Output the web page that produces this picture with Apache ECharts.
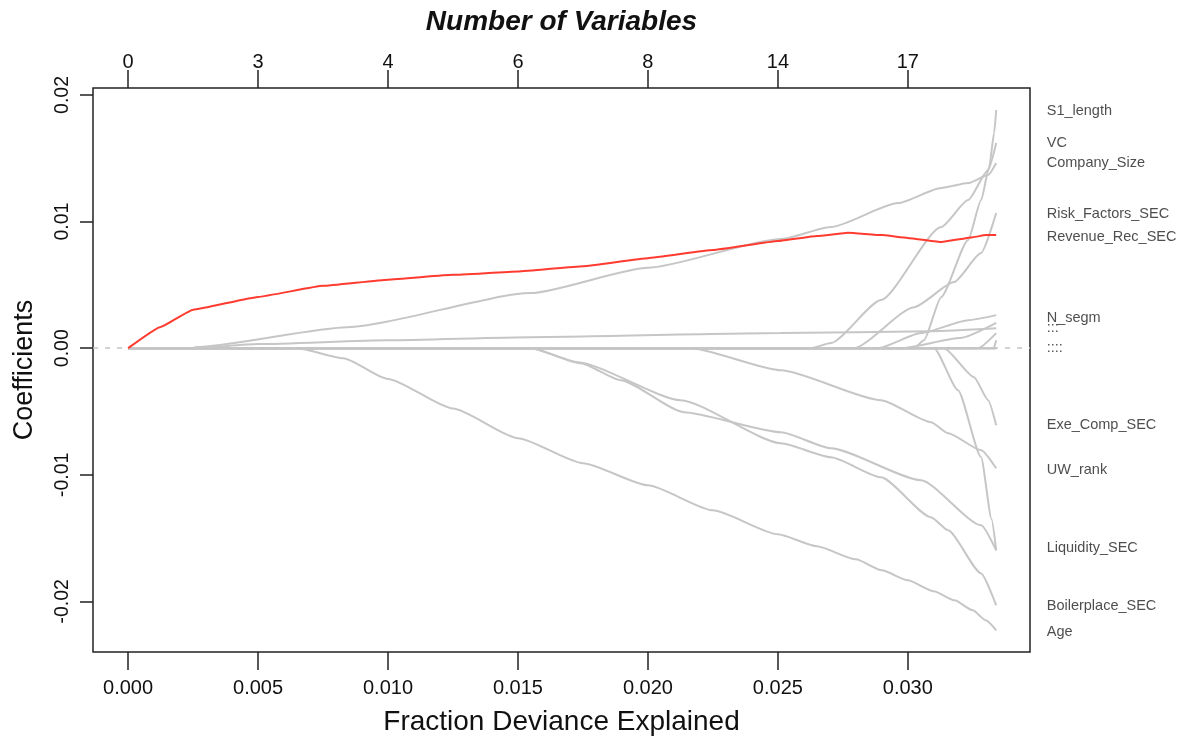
<!DOCTYPE html>
<html>
<head>
<meta charset="utf-8">
<title>Coefficient paths</title>
<script src="https://cdn.jsdelivr.net/npm/echarts@6/dist/echarts.min.js"></script>
<style>
  html, body { margin: 0; padding: 0; background: #fff; }
  #main { width: 1193px; height: 746px; }
</style>
</head>
<body>
<div id="main"></div>
<script>
// axis ticks
var devTicks = [0, 0.005, 0.010, 0.015, 0.020, 0.025, 0.030];
var nVarLabels = ['0', '3', '4', '6', '8', '14', '17'];
var coefTicks = [-0.02, -0.01, 0, 0.01, 0.02];
var coefTickLabels = ['-0.02', '-0.01', '0.00', '0.01', '0.02'];

// coefficient paths, [fraction deviance explained, coefficient]
var revenueRec = [[0, 0], [0.00123, 0.00166], [0.0025, 0.00304], [0.005, 0.00405], [0.0075, 0.00492],
  [0.01, 0.00541], [0.0125, 0.00579], [0.015, 0.00605], [0.0175, 0.00648], [0.02, 0.00711],
  [0.0225, 0.00775], [0.025, 0.00846], [0.0265, 0.00885], [0.0277, 0.00912], [0.029, 0.00893],
  [0.030, 0.0087], [0.0313, 0.00838], [0.0325, 0.00877], [0.033, 0.00893], [0.0334, 0.00893]];
var companySize = [[0, 0], [0.0025, 0], [0.00258, 0.00008], [0.00844, 0.00166], [0.01549, 0.00435],
  [0.02, 0.00635], [0.02512, 0.00862], [0.02704, 0.00957], [0.02962, 0.01146], [0.03128, 0.01265],
  [0.03232, 0.01304], [0.03309, 0.01368], [0.0334, 0.01462]];
var vc = [[0, 0], [0.02627, 0], [0.02704, 0.0004], [0.02897, 0.0038], [0.03128, 0.00957],
  [0.03232, 0.0117], [0.03309, 0.01407], [0.0334, 0.01621]];
var s1Length = [[0, 0], [0.03024, 0], [0.03062, 0.00063], [0.03128, 0.00403], [0.03232, 0.00854],
  [0.03282, 0.0117], [0.03313, 0.01431], [0.03332, 0.017], [0.0334, 0.01881]];
var riskFactors = [[0, 0], [0.02793, 0], [0.03024, 0.00324], [0.03178, 0.00522], [0.03282, 0.00751],
  [0.0334, 0.01067]];
var nSegm = [[0, 0], [0.02885, 0], [0.03051, 0.00119], [0.03232, 0.00221], [0.0334, 0.00261]];
var earlyFlat = [[0, 0], [0.0025, 0], [0.005, 0.00032], [0.01, 0.00063], [0.01549, 0.00087],
  [0.02512, 0.00119], [0.03089, 0.00134], [0.0334, 0.00158]];
var smallA = [[0, 0], [0.0298, 0], [0.032, 0.0008], [0.0334, 0.002]];
var smallB = [[0, 0], [0.0327, 0], [0.0334, 0.00119]];
var smallC = [[0, 0], [0.0333, 0], [0.0334, 0.00063]];
var age = [[0, 0], [0.0065, 0], [0.00828, -0.00079], [0.01, -0.00243], [0.0125, -0.00477],
  [0.015, -0.00711], [0.0175, -0.00909], [0.02, -0.01083], [0.0225, -0.01281], [0.025, -0.0147],
  [0.0265, -0.01565], [0.028, -0.01668], [0.029, -0.01755], [0.03, -0.01834], [0.031, -0.0192],
  [0.0318, -0.01992], [0.0325, -0.02071], [0.033, -0.0215], [0.0334, -0.02229]];
var boilerplace = [[0, 0], [0.01549, 0], [0.0173, -0.00111], [0.02126, -0.00411], [0.02512, -0.00751],
  [0.02704, -0.00862], [0.02897, -0.0102], [0.03089, -0.01336], [0.03155, -0.01439],
  [0.03282, -0.01779], [0.0334, -0.02032]];
var liquidity = [[0, 0], [0.01549, 0], [0.01741, -0.00119], [0.01895, -0.00253], [0.02138, -0.00506],
  [0.02512, -0.00664], [0.02704, -0.00791], [0.03051, -0.01043], [0.03282, -0.01399], [0.0334, -0.01597]];
var uwRank = [[0, 0], [0.02165, 0], [0.02512, -0.00174], [0.02897, -0.00411], [0.03089, -0.00585],
  [0.03155, -0.00672], [0.03282, -0.00806], [0.0334, -0.00949]];
var exeComp = [[0, 0], [0.03139, 0], [0.03255, -0.00229], [0.03309, -0.00411], [0.0334, -0.00609]];
var lateNeg = [[0, 0], [0.03101, 0], [0.03193, -0.00332], [0.03282, -0.00862], [0.03322, -0.01350],
  [0.0334, -0.01597]];
var zeroPath = [[0, 0], [0.0334, 0]];

// right-hand variable labels
var endNames = ['S1_length', 'VC', 'Company_Size', 'Risk_Factors_SEC', 'Revenue_Rec_SEC', 'N_segm',
  ':::', '::::', 'Exe_Comp_SEC', 'UW_rank', 'Liquidity_SEC', 'Boilerplace_SEC', 'Age'];
var endCoefs = [0.01874, 0.0162, 0.01462, 0.01059, 0.00877, 0.00237, 0.00158, 0, -0.00609, -0.00964,
  -0.01581, -0.0204, -0.02245];
var endX = 0.0334;

var FONT = 'Liberation Sans, Arial, Helvetica, sans-serif';
var chart = echarts.init(document.getElementById('main'));

var greyPaths = [companySize, vc, s1Length, riskFactors, nSegm, earlyFlat, smallA, smallB, smallC,
  age, boilerplace, liquidity, uwRank, exeComp, lateNeg];

var series = [];
series.push({
  type: 'line',
  data: zeroPath,
  symbol: 'none',
  silent: true,
  lineStyle: { color: '#c4c4c4', width: 2.5 },
  markLine: {
    silent: true,
    symbol: 'none',
    label: { show: false },
    lineStyle: { color: '#c4c4c4', type: [5, 7], width: 1.5 },
    data: [{ yAxis: 0 }]
  },
  z: 2
});
greyPaths.forEach(function (p) {
  series.push({
    type: 'line',
    data: p,
    symbol: 'none',
    silent: true,
    smooth: 0.2,
    smoothMonotone: 'x',
    lineStyle: { color: '#c6c6c6', width: 2 },
    z: 3
  });
});
series.push({
  type: 'line',
  data: revenueRec,
  symbol: 'none',
  silent: true,
  smooth: 0.1,
  smoothMonotone: 'x',
  lineStyle: { color: '#ff3b30', width: 2 },
  z: 5
});
series.push({
  type: 'scatter',
  symbolSize: 1,
  silent: true,
  itemStyle: { color: 'transparent' },
  data: endNames.map(function (n, i) { return { value: [endX, endCoefs[i]], name: n }; }),
  label: {
    show: true,
    position: 'right',
    distance: 50,
    formatter: '{b}',
    color: '#222',
    fontSize: 14.5,
    fontFamily: FONT
  },
  z: 6
});

chart.setOption({
  animation: false,
  backgroundColor: '#fff',
  grid: {
    left: 93, right: 163, top: 88, bottom: 94,
    show: true, borderColor: '#222', borderWidth: 1.5, backgroundColor: 'transparent'
  },
  xAxis: [{
    type: 'value',
    position: 'bottom',
    min: -0.00135, max: 0.0347,
    name: 'Fraction Deviance Explained',
    nameLocation: 'middle',
    nameGap: 56,
    nameTextStyle: { fontSize: 28, color: '#111', fontFamily: FONT },
    axisLine: { show: false, onZero: false },
    splitLine: { show: false },
    axisTick: { show: true, length: 18, customValues: devTicks, lineStyle: { color: '#222', width: 1.5 } },
    axisLabel: {
      customValues: devTicks, margin: 26, fontSize: 20, color: '#111', fontFamily: FONT,
      formatter: function (v) { return v.toFixed(3); }
    }
  }, {
    type: 'value',
    position: 'top',
    min: -0.00135, max: 0.0347,
    name: 'Number of Variables',
    nameLocation: 'middle',
    nameGap: 52,
    nameTextStyle: { fontSize: 28, fontWeight: 'bold', fontStyle: 'italic', color: '#111', fontFamily: FONT },
    axisLine: { show: false, onZero: false },
    splitLine: { show: false },
    axisTick: { show: true, length: 18, customValues: devTicks, lineStyle: { color: '#222', width: 1.5 } },
    axisLabel: {
      customValues: devTicks, margin: 16, fontSize: 20, color: '#111', fontFamily: FONT,
      formatter: function (v) {
        var i = devTicks.findIndex(function (t) { return Math.abs(t - v) < 1e-9; });
        return i >= 0 ? nVarLabels[i] : '';
      }
    }
  }],
  yAxis: {
    type: 'value',
    min: -0.0240, max: 0.02055,
    name: 'Coefficients',
    nameLocation: 'middle',
    nameGap: 55,
    nameRotate: 90,
    nameTextStyle: { fontSize: 27, color: '#111', fontFamily: FONT },
    axisLine: { show: false, onZero: false },
    splitLine: { show: false },
    axisTick: { show: true, length: 13, customValues: coefTicks, lineStyle: { color: '#222', width: 1.5 } },
    axisLabel: {
      customValues: coefTicks, rotate: 90, margin: 20, fontSize: 19.5, color: '#111', fontFamily: FONT,
      formatter: function (v) {
        var i = coefTicks.findIndex(function (t) { return Math.abs(t - v) < 1e-9; });
        return i >= 0 ? coefTickLabels[i] : '';
      }
    }
  },
  series: series
});
</script>
</body>
</html>
